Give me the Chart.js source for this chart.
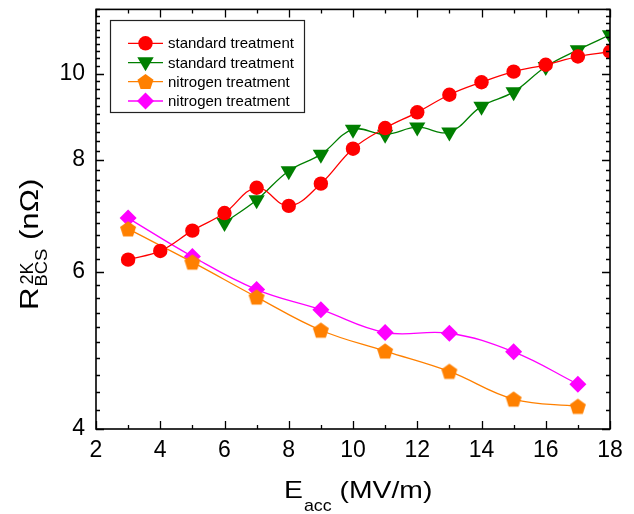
<!DOCTYPE html>
<html>
<head>
<meta charset="utf-8">
<script src="https://cdn.jsdelivr.net/npm/chart.js@4.4.0/dist/chart.umd.min.js"></script>
<style>
  html, body { margin: 0; padding: 0; background: #fff; }
  canvas { display: block; }
</style>
</head>
<body>
<canvas id="c" width="634" height="514"></canvas>
<script>
// data (E_acc in MV/m, R_BCS in nOhm)
const eAccStdA = [3, 4, 5, 6, 7, 8, 9, 10, 11, 12, 13, 14, 15, 16, 17, 18];
const rStdA = [6.19, 6.33, 6.67, 6.98, 7.45, 7.11, 7.53, 8.24, 8.69, 9.05, 9.47, 9.78, 10.05, 10.23, 10.45, 10.58];
const eAccStdB = [6, 7, 8, 9, 10, 11, 12, 13, 14, 15, 16, 17, 18];
const rStdB = [6.81, 7.22, 7.78, 8.12, 8.66, 8.55, 8.71, 8.60, 9.19, 9.54, 10.18, 10.63, 11.05];
const eAccN = [3, 5, 7, 9, 11, 13, 15, 17];
const rNitA = [6.70, 6.15, 5.62, 5.16, 4.89, 4.64, 4.32, 4.24];
const rNitB = [6.89, 6.24, 5.73, 5.44, 5.13, 5.12, 4.88, 4.49];
const labels = ['standard treatment', 'standard treatment', 'nitrogen treatment', 'nitrogen treatment'];
const xTicks = [2, 4, 6, 8, 10, 12, 14, 16, 18];
const yTicks = [4, 6, 8, 10];

const FONT = 'Arial, "Liberation Sans", sans-serif';
const RED = '#ff0000', GREEN = '#007f00', ORANGE = '#ff8000', MAGENTA = '#ff00ff';

function pentagonPath(ctx, cx, cy, r) {
  ctx.beginPath();
  for (let k = 0; k < 5; k++) {
    const a = -Math.PI / 2 + k * 2 * Math.PI / 5;
    const px = cx + r * Math.cos(a), py = cy + r * Math.sin(a);
    if (k === 0) ctx.moveTo(px, py); else ctx.lineTo(px, py);
  }
  ctx.closePath();
}

const pent = document.createElement('canvas');
pent.width = 18; pent.height = 18;
(function () {
  const p = pent.getContext('2d');
  p.fillStyle = ORANGE;
  pentagonPath(p, 9, 9.6, 8.4);
  p.fill();
})();

const pts = (xs, ys) => xs.map((x, i) => ({ x, y: ys[i] }));

function drawMarker(ctx, style, x, y, color) {
  ctx.fillStyle = color;
  ctx.beginPath();
  if (style === 'circle') {
    ctx.arc(x, y, 7.2, 0, Math.PI * 2);
  } else if (style === 'tri') {
    ctx.moveTo(x - 8.2, y - 5.5); ctx.lineTo(x + 8.2, y - 5.5); ctx.lineTo(x, y + 8.5); ctx.closePath();
  } else if (style === 'pent') {
    pentagonPath(ctx, x, y + 0.6, 8.4);
  } else {
    ctx.moveTo(x, y - 8.5); ctx.lineTo(x + 8.5, y); ctx.lineTo(x, y + 8.5); ctx.lineTo(x - 8.5, y); ctx.closePath();
  }
  ctx.fill();
}

// text stretched along its own direction (titles in the figure are wide)
function wideText(ctx, txt, x, y, sx) {
  ctx.save();
  ctx.translate(x, y);
  ctx.scale(sx, 1);
  ctx.fillText(txt, 0, 0);
  ctx.restore();
  return ctx.measureText(txt).width * sx;
}

const framePlugin = {
  id: 'frame',
  afterDatasetsDraw(chart) {
    const { ctx, chartArea: a, scales: { x, y } } = chart;
    ctx.save();
    ctx.strokeStyle = '#000';
    ctx.lineWidth = 1.3;
    ctx.beginPath();
    for (let v = 2; v <= 18; v += 1) {
      const px = Math.round(x.getPixelForValue(v)) + 0.5;
      const len = v % 2 === 0 ? 8 : 4;
      ctx.moveTo(px, a.bottom); ctx.lineTo(px, a.bottom - len);
      ctx.moveTo(px, a.top); ctx.lineTo(px, a.top + len);
    }
    for (let i = 20; i <= 59; i++) {
      const v = i / 5;
      const py = Math.round(y.getPixelForValue(v)) + 0.5;
      const len = i % 10 === 0 ? 8 : 4;
      ctx.moveTo(a.left, py); ctx.lineTo(a.left + len, py);
      ctx.moveTo(a.right, py); ctx.lineTo(a.right - len, py);
    }
    ctx.stroke();
    ctx.lineWidth = 1.6;
    ctx.strokeRect(a.left, a.top, a.right - a.left, a.bottom - a.top);
    ctx.restore();
  },
  afterDraw(chart) {
    const { ctx } = chart;
    ctx.save();
    ctx.fillStyle = '#000';
    ctx.textBaseline = 'alphabetic';
    ctx.textAlign = 'left';

    // x title
    ctx.font = '24px ' + FONT;
    let cx = 284;
    cx += wideText(ctx, 'E', cx, 498, 1.18) + 1;
    ctx.font = '17px ' + FONT;
    cx += wideText(ctx, 'acc', cx, 511, 1.05);
    ctx.font = '24px ' + FONT;
    wideText(ctx, ' (MV/m)', cx, 498, 1.18);

    // y title
    ctx.translate(0, 310);
    ctx.rotate(-Math.PI / 2);
    ctx.font = '26px ' + FONT;
    let w = wideText(ctx, 'R', 0, 38, 1.2) + 1;
    ctx.font = '18px ' + FONT;
    const wSup = wideText(ctx, '2K', w + 2, 33, 1.0);
    ctx.font = '17px ' + FONT;
    const wSub = wideText(ctx, 'BCS', w, 47, 1.08);
    w += Math.max(wSup + 2, wSub);
    ctx.font = '26px ' + FONT;
    wideText(ctx, ' (n\u03A9)', w, 38, 1.2);
    ctx.restore();

    // legend
    ctx.save();
    ctx.fillStyle = '#fff';
    ctx.fillRect(110, 20, 195, 92);
    ctx.strokeStyle = '#222';
    ctx.lineWidth = 1.2;
    ctx.strokeRect(110.5, 20.5, 194, 92);
    const rows = [43.3, 62.7, 81.7, 101];
    const cols = [RED, GREEN, ORANGE, MAGENTA];
    const styles = ['circle', 'tri', 'pent', 'diamond'];
    ctx.font = '15px ' + FONT;
    ctx.textBaseline = 'middle';
    rows.forEach((ry, i) => {
      ctx.strokeStyle = cols[i];
      ctx.lineWidth = 1.3;
      ctx.beginPath(); ctx.moveTo(128, ry); ctx.lineTo(163, ry); ctx.stroke();
      drawMarker(ctx, styles[i], 145.5, ry, cols[i]);
      ctx.fillStyle = '#000';
      ctx.fillText(labels[i], 168, ry + 1);
    });
    ctx.restore();
  }
};

const common = { fill: false, borderWidth: 1.3, tension: 0.4, pointBorderWidth: 0 };

new Chart(document.getElementById('c'), {
  type: 'line',
  data: {
    datasets: [
      { ...common, label: labels[0], data: pts(eAccStdA, rStdA), borderColor: RED, backgroundColor: RED,
        pointStyle: 'circle', pointRadius: 7.2, pointBackgroundColor: RED, pointBorderColor: RED },
      { ...common, label: labels[1], data: pts(eAccStdB, rStdB), borderColor: GREEN, backgroundColor: GREEN,
        pointStyle: 'triangle', pointRotation: 180, pointRadius: 9.4, pointBackgroundColor: GREEN, pointBorderColor: GREEN },
      { ...common, label: labels[2], data: pts(eAccN, rNitA), borderColor: ORANGE, backgroundColor: ORANGE,
        pointStyle: pent, pointBackgroundColor: ORANGE, pointBorderColor: ORANGE },
      { ...common, label: labels[3], data: pts(eAccN, rNitB), borderColor: MAGENTA, backgroundColor: MAGENTA,
        pointStyle: 'rectRot', pointRadius: 8.5, pointBackgroundColor: MAGENTA, pointBorderColor: MAGENTA }
    ]
  },
  options: {
    responsive: false,
    devicePixelRatio: 1,
    animation: false,
    layout: { padding: { top: 8, right: 24, bottom: 0, left: 0 } },
    plugins: { legend: { display: false }, tooltip: { enabled: false } },
    scales: {
      x: {
        type: 'linear', min: 2, max: 18,
        grid: { display: false, drawTicks: false },
        border: { display: false },
        ticks: { color: '#000', font: { size: 23, family: FONT }, padding: 8, maxRotation: 0 },
        afterBuildTicks: s => { s.ticks = xTicks.map(v => ({ value: v })); },
        afterFit: s => { s.height = 85; s.paddingLeft = 0; s.paddingRight = 0; }
      },
      y: {
        type: 'logarithmic', min: 4, max: 11.8,
        grid: { display: false, drawTicks: false },
        border: { display: false },
        ticks: { color: '#000', font: { size: 23, family: FONT }, padding: 11, callback: v => String(v) },
        afterBuildTicks: s => { s.ticks = yTicks.map(v => ({ value: v })); },
        afterFit: s => { s.width = 96; s.paddingTop = 0; s.paddingBottom = 0; }
      }
    }
  },
  plugins: [framePlugin]
});
</script>
</body>
</html>
